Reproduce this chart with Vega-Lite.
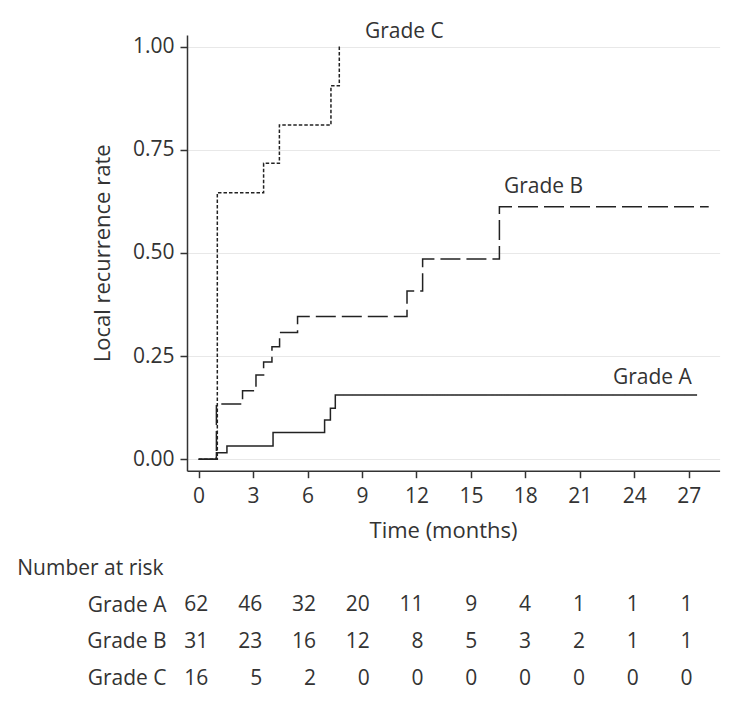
{
  "$schema": "https://vega.github.io/schema/vega-lite/v6.json",
  "padding": {"left": 17, "top": 21, "right": 5, "bottom": 5},
  "config": {
    "view": {"stroke": null},
    "font": "Open Sans",
    "axis": {"labelColor": "#333", "titleColor": "#333", "titleFontWeight": "normal"},
    "title": {"color": "#333"}
  },
  "datasets": {
    "curves": [
      {"grade": "Grade A", "time": 0, "rate": 0},
      {"grade": "Grade A", "time": 0.98, "rate": 0.016},
      {"grade": "Grade A", "time": 1.56, "rate": 0.032},
      {"grade": "Grade A", "time": 4.1, "rate": 0.065},
      {"grade": "Grade A", "time": 6.94, "rate": 0.095},
      {"grade": "Grade A", "time": 7.26, "rate": 0.124},
      {"grade": "Grade A", "time": 7.53, "rate": 0.156},
      {"grade": "Grade A", "time": 27.46, "rate": 0.156},
      {"grade": "Grade B", "time": 0, "rate": 0},
      {"grade": "Grade B", "time": 0.98, "rate": 0.134},
      {"grade": "Grade B", "time": 2.42, "rate": 0.166},
      {"grade": "Grade B", "time": 3.16, "rate": 0.204},
      {"grade": "Grade B", "time": 3.58, "rate": 0.236},
      {"grade": "Grade B", "time": 4.04, "rate": 0.273},
      {"grade": "Grade B", "time": 4.46, "rate": 0.307},
      {"grade": "Grade B", "time": 5.45, "rate": 0.346},
      {"grade": "Grade B", "time": 11.48, "rate": 0.408},
      {"grade": "Grade B", "time": 12.34, "rate": 0.485},
      {"grade": "Grade B", "time": 16.57, "rate": 0.612},
      {"grade": "Grade B", "time": 28.1, "rate": 0.612},
      {"grade": "Grade C", "time": 0, "rate": 0},
      {"grade": "Grade C", "time": 1.03, "rate": 0.646},
      {"grade": "Grade C", "time": 3.58, "rate": 0.717},
      {"grade": "Grade C", "time": 4.45, "rate": 0.81},
      {"grade": "Grade C", "time": 7.29, "rate": 0.905},
      {"grade": "Grade C", "time": 7.75, "rate": 1.0}
    ],
    "labels": [
      {"grade": "Grade A", "time": 25.0, "rate": 0.197},
      {"grade": "Grade B", "time": 19.0, "rate": 0.66},
      {"grade": "Grade C", "time": 11.33, "rate": 1.035}
    ],
    "risk": [
      {"grade": "Grade A", "t": 0, "n": 62}, {"grade": "Grade A", "t": 3, "n": 46}, {"grade": "Grade A", "t": 6, "n": 32}, {"grade": "Grade A", "t": 9, "n": 20}, {"grade": "Grade A", "t": 12, "n": 11}, {"grade": "Grade A", "t": 15, "n": 9}, {"grade": "Grade A", "t": 18, "n": 4}, {"grade": "Grade A", "t": 21, "n": 1}, {"grade": "Grade A", "t": 24, "n": 1}, {"grade": "Grade A", "t": 27, "n": 1},
      {"grade": "Grade B", "t": 0, "n": 31}, {"grade": "Grade B", "t": 3, "n": 23}, {"grade": "Grade B", "t": 6, "n": 16}, {"grade": "Grade B", "t": 9, "n": 12}, {"grade": "Grade B", "t": 12, "n": 8}, {"grade": "Grade B", "t": 15, "n": 5}, {"grade": "Grade B", "t": 18, "n": 3}, {"grade": "Grade B", "t": 21, "n": 2}, {"grade": "Grade B", "t": 24, "n": 1}, {"grade": "Grade B", "t": 27, "n": 1},
      {"grade": "Grade C", "t": 0, "n": 16}, {"grade": "Grade C", "t": 3, "n": 5}, {"grade": "Grade C", "t": 6, "n": 2}, {"grade": "Grade C", "t": 9, "n": 0}, {"grade": "Grade C", "t": 12, "n": 0}, {"grade": "Grade C", "t": 15, "n": 0}, {"grade": "Grade C", "t": 18, "n": 0}, {"grade": "Grade C", "t": 21, "n": 0}, {"grade": "Grade C", "t": 24, "n": 0}, {"grade": "Grade C", "t": 27, "n": 0}
    ]
  },
  "vconcat": [
    {
      "width": 532.6,
      "height": 435.7,
      "layer": [
        {
          "data": {"name": "curves"},
          "mark": {"type": "line", "interpolate": "step-after", "strokeWidth": 1.5, "color": "#222"},
          "encoding": {
            "x": {"field": "time", "type": "quantitative",
                  "scale": {"domain": [-0.64, 28.7], "nice": false, "zero": false},
                  "axis": {"values": [0, 3, 6, 9, 12, 15, 18, 21, 24, 27], "title": "Time (months)",
                           "grid": false, "domainColor": "#333", "domainWidth": 1.5, "tickColor": "#333", "tickWidth": 1.5, "tickSize": 7,
                           "labelFontSize": 21, "labelPadding": 8, "titleFontSize": 22, "titlePadding": 14, "titleX": 256}},
            "y": {"field": "rate", "type": "quantitative",
                  "scale": {"domain": [-0.0276, 1.028], "nice": false, "zero": false},
                  "axis": {"values": [0, 0.25, 0.5, 0.75, 1], "format": ".2f", "title": "Local recurrence rate",
                           "grid": true, "gridColor": "#e8e8e8", "gridWidth": 1, "domainColor": "#333", "domainWidth": 1.5, "tickColor": "#333", "tickWidth": 1.5, "tickSize": 7,
                           "labelFontSize": 21, "labelPadding": 6, "titleFontSize": 22, "titlePadding": 18}},
            "strokeDash": {"field": "grade", "type": "nominal",
                           "scale": {"domain": ["Grade A", "Grade B", "Grade C"], "range": [[1, 0], [20, 6], [3.5, 2]]},
                           "legend": null}
          }
        },
        {
          "data": {"name": "labels"},
          "mark": {"type": "text", "fontSize": 21, "color": "#333", "align": "center", "baseline": "middle"},
          "encoding": {
            "x": {"field": "time", "type": "quantitative"},
            "y": {"field": "rate", "type": "quantitative"},
            "text": {"field": "grade"}
          }
        }
      ]
    },
    {
      "width": 532.6,
      "height": 110,
      "data": {"name": "risk"},
      "title": {"text": "Number at risk", "anchor": "start", "frame": "group", "dx": -169.7, "fontSize": 21, "fontWeight": "normal", "offset": 8},
      "mark": {"type": "text", "fontSize": 21, "color": "#333", "align": "right", "baseline": "middle"},
      "encoding": {
        "x": {"field": "t", "type": "quantitative", "scale": {"domain": [-1.19, 28.51], "nice": false, "zero": false}, "axis": null},
        "y": {"field": "grade", "type": "nominal", "sort": ["Grade A", "Grade B", "Grade C"],
              "scale": {"paddingInner": 0, "paddingOuter": 0},
              "axis": {"title": null, "domain": false, "ticks": false, "labelPadding": 21, "labelFontSize": 21, "labelColor": "#333"}},
        "text": {"field": "n", "type": "quantitative"}
      }
    }
  ],
  "spacing": 16
}
